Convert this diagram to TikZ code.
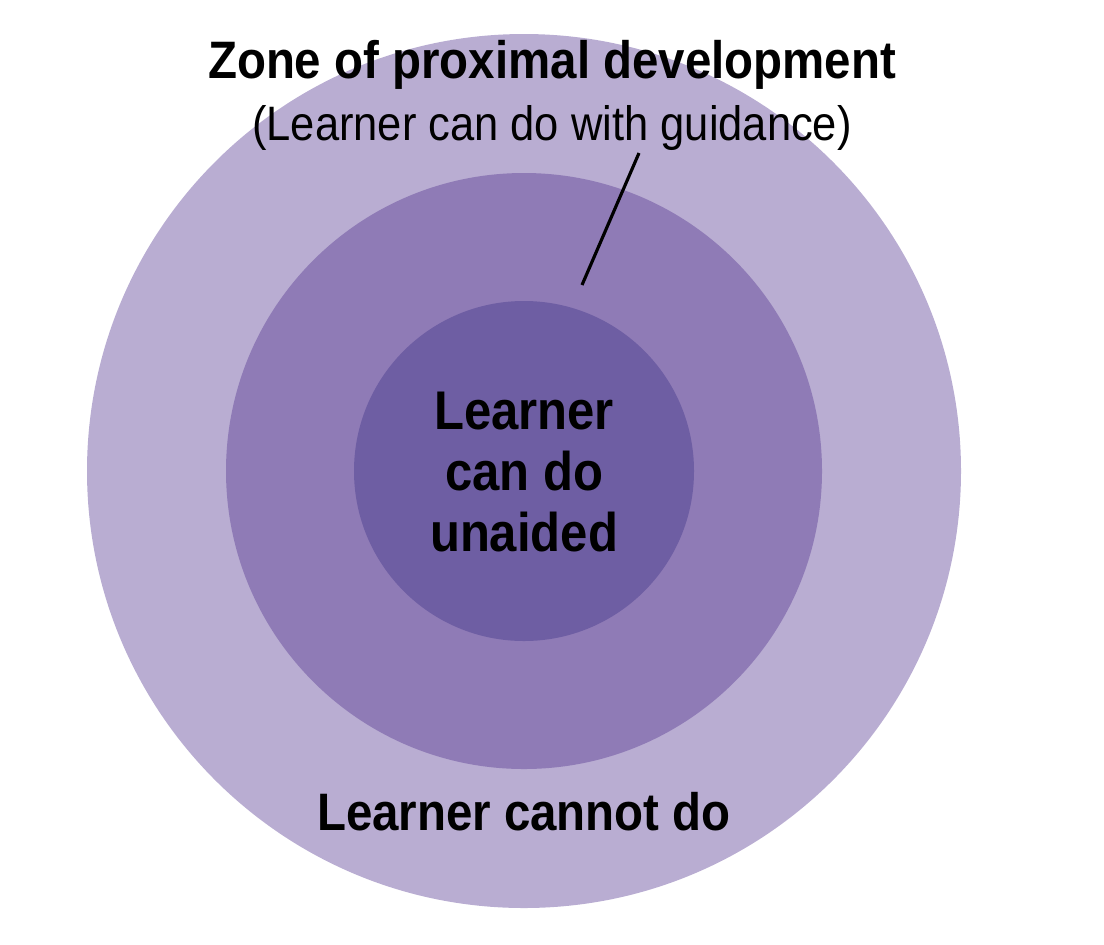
\documentclass[tikz,border=0pt]{standalone}
\usepackage{fontspec}
\setmainfont{Liberation Sans}
\newfontfamily\lblfont[FakeStretch=0.9]{Liberation Sans}
\definecolor{ringout}{HTML}{B9ADD2}
\definecolor{ringmid}{HTML}{8F7BB6}
\definecolor{ringin}{HTML}{6E5EA3}
\tikzset{
  boldlbl/.style={font=\lblfont\bfseries\fontsize{30}{36}\selectfont, inner sep=0pt, align=center},
  thinlbl/.style={font=\lblfont\fontsize{27.5}{33}\selectfont, inner sep=0pt}
}
\begin{document}
\begin{tikzpicture}[x=0.02cm, y=-0.02cm]
    % 0. Khung
    \useasboundingbox (0,0) rectangle (1104,944);

    % 1. Ba vòng tròn đồng tâm
    \fill[ringout] (524,471) circle (437);
    \fill[ringmid] (524,471) circle (298);
    \fill[ringin]  (524,471) circle (170);

    % 2. Các nhãn
    \node[boldlbl] (zpd) at (552,65) {Zone of proximal development};
    \node[thinlbl] (guide) at (552,128) {(Learner can do with guidance)};
    \node[boldlbl, font=\lblfont\bfseries\fontsize{31}{34.6}\selectfont] (unaided) at (524,472)
        {Learner\\can do\\unaided};
    \node[boldlbl] (cannot) at (524,812) {Learner cannot do};

    % 3. Đường chỉ dẫn
    \coordinate (ptr1) at (639,153);
    \coordinate (ptr2) at (582,285);
    \draw[line width=1.8pt] (ptr1) -- (ptr2);
\end{tikzpicture}
\end{document}
